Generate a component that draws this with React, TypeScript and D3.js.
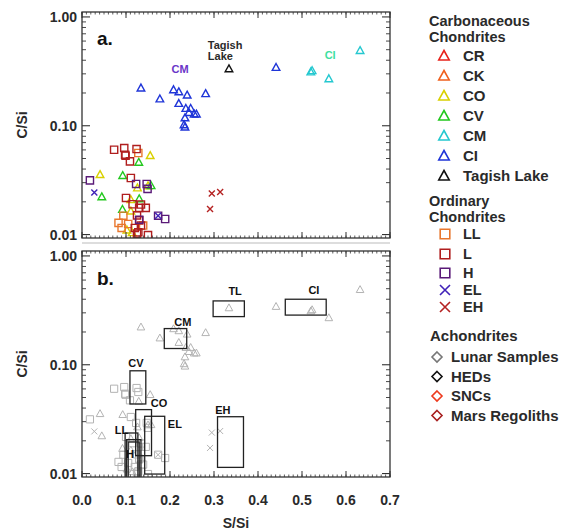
import React from "react";
import * as d3 from "d3";

type Pt = [number, number];

// S/Si, C/Si
const crPts: Pt[] = [];
const ckPts: Pt[] = [];
const coPts: Pt[] = [
  [0.041, 0.0355], [0.155, 0.0531], [0.126, 0.0268], [0.111, 0.0209],
  [0.111, 0.0164], [0.102, 0.011], [0.114, 0.0104], [0.150, 0.028],
];
const cvPts: Pt[] = [
  [0.045, 0.0222], [0.0925, 0.0348], [0.129, 0.0461], [0.157, 0.0281],
  [0.130, 0.0213], [0.092, 0.017],
];
const cmPts: Pt[] = [
  [0.523, 0.32], [0.52, 0.312], [0.561, 0.27], [0.632, 0.49],
];
const ciPts: Pt[] = [
  [0.134, 0.222], [0.177, 0.176], [0.208, 0.214], [0.22, 0.205], [0.239, 0.191],
  [0.281, 0.197], [0.22, 0.16], [0.236, 0.144], [0.247, 0.144], [0.243, 0.132],
  [0.255, 0.128], [0.26, 0.128], [0.234, 0.118], [0.232, 0.102], [0.234, 0.097],
  [0.441, 0.343],
];
const tagishPts: Pt[] = [[0.334, 0.333]];
const llPts: Pt[] = [
  [0.128, 0.0562], [0.094, 0.0149], [0.083, 0.0128], [0.09, 0.0115],
  [0.139, 0.0121], [0.105, 0.0125],
];
const lPts: Pt[] = [
  [0.073, 0.0602], [0.096, 0.0624], [0.124, 0.0611], [0.098, 0.0542], [0.099, 0.053],
  [0.109, 0.0471], [0.111, 0.0331], [0.1, 0.0217], [0.13, 0.0176], [0.134, 0.0189],
  [0.145, 0.0176], [0.134, 0.0121], [0.12, 0.0115], [0.128, 0.0105], [0.13, 0.0135],
  [0.115, 0.019], [0.125, 0.015], [0.125, 0.0102], [0.15, 0.0099],
];
const hPts: Pt[] = [
  [0.018, 0.0315], [0.123, 0.0292], [0.147, 0.0292], [0.149, 0.0263],
  [0.13, 0.0137], [0.173, 0.0149], [0.189, 0.0139],
];
const elPts: Pt[] = [[0.028, 0.0244], [0.173, 0.0149]];
const ehPts: Pt[] = [[0.295, 0.0238], [0.314, 0.0246], [0.291, 0.0172]];

// panel b boxes: [x0, x1, y0, y1, labelX, labelY]
const boxNames = ["TL", "CM", "CV", "CO", "EL", "LL", "L", "H", "EH", "CI"];
const boxRanges: number[][] = [
  [0.298, 0.369, 0.277, 0.386, 0.348, 0.438],
  [0.187, 0.238, 0.141, 0.215, 0.229, 0.228],
  [0.109, 0.145, 0.0436, 0.088, 0.1227, 0.0959],
  [0.122, 0.158, 0.0146, 0.0387, 0.175, 0.0412],
  [0.1425, 0.188, 0.0099, 0.0336, 0.211, 0.0264],
  [0.098, 0.127, 0.005, 0.0236, 0.09, 0.0233],
  [0.1015, 0.134, 0.005, 0.0205, NaN, NaN],
  [0.105, 0.13, 0.005, 0.0195, 0.109, 0.014],
  [0.308, 0.367, 0.0114, 0.0333, 0.32, 0.0355],
  [0.462, 0.555, 0.286, 0.4, 0.527, 0.448],
];

const xTicks = [0, 0.1, 0.2, 0.3, 0.4, 0.5, 0.6, 0.7];
const yTicks = [0.01, 0.1, 1];
const yTickLabels = ["0.01", "0.10", "1.00"];

const series = [
  { name: "CR", color: "#e8231b", shape: "tri", pts: crPts },
  { name: "CK", color: "#f0601e", shape: "tri", pts: ckPts },
  { name: "CO", color: "#d9d000", shape: "tri", pts: coPts },
  { name: "CV", color: "#22c81e", shape: "tri", pts: cvPts },
  { name: "CM", color: "#25c8d0", shape: "tri", pts: cmPts },
  { name: "CI", color: "#1f35d8", shape: "tri", pts: ciPts },
  { name: "Tagish Lake", color: "#111111", shape: "tri", pts: tagishPts },
  { name: "LL", color: "#e8772e", shape: "sq", pts: llPts },
  { name: "L", color: "#b01e1e", shape: "sq", pts: lPts },
  { name: "H", color: "#5a1a78", shape: "sq", pts: hPts },
  { name: "EL", color: "#4022b8", shape: "x", pts: elPts },
  { name: "EH", color: "#b52222", shape: "x", pts: ehPts },
];
const achondrites = [
  { name: "Lunar Samples", color: "#777777" },
  { name: "HEDs", color: "#111111" },
  { name: "SNCs", color: "#ee3a1e" },
  { name: "Mars Regoliths", color: "#a82020" },
];

const FONT = "'Liberation Sans', Arial, Helvetica, sans-serif";
const TXT = "#2a2a2a";

function shapePath(shape: string, s: number): string {
  if (shape === "tri") return `M0,${-s}L${s * 0.95},${s * 0.72}L${-s * 0.95},${s * 0.72}Z`;
  if (shape === "sq") return `M${-s},${-s}H${s}V${s}H${-s}Z`;
  if (shape === "x") return `M${-s},${-s}L${s},${s}M${-s},${s}L${s},${-s}`;
  return `M0,${-s}L${s},0L0,${s}L${-s},0Z`;
}

const x = d3.scaleLinear().domain([0, 0.7]).range([82, 390]);
const yA = d3.scaleLog().domain([0.0093, 1.11]).range([238, 12]);
const yB = d3.scaleLog().domain([0.0093, 1.11]).range([477, 251]);

const xMinor = d3.range(0, 70.5, 1).map((v) => v / 100);
const yMinor = [0.01, 0.1].flatMap((d) => d3.range(2, 10).map((k) => k * d)).filter((v) => v < 1.11);

function Frame({ y, id }: { y: d3.ScaleLogarithmic<number, number>; id: string }) {
  const [top, bottom] = [y.range()[1], y.range()[0]];
  const [left, right] = x.range();
  const stroke = "#333";
  return (
    <g>
      <rect x={left} y={top} width={right - left} height={bottom - top} fill="none" stroke={stroke} strokeWidth={1.3} />
      {xMinor.map((v, i) => (
        <g key={id + "xm" + i}>
          <line x1={x(v)} x2={x(v)} y1={bottom} y2={bottom - 2.5} stroke={stroke} strokeWidth={0.8} />
          <line x1={x(v)} x2={x(v)} y1={top} y2={top + 2.5} stroke={stroke} strokeWidth={0.8} />
        </g>
      ))}
      {xTicks.map((v, i) => (
        <g key={id + "xM" + i}>
          <line x1={x(v)} x2={x(v)} y1={bottom} y2={bottom - 6} stroke={stroke} strokeWidth={1} />
          <line x1={x(v)} x2={x(v)} y1={top} y2={top + 6} stroke={stroke} strokeWidth={1} />
        </g>
      ))}
      {yMinor.map((v, i) => (
        <g key={id + "ym" + i}>
          <line x1={left} x2={left + 4} y1={y(v)} y2={y(v)} stroke={stroke} strokeWidth={0.9} />
          <line x1={right} x2={right - 4} y1={y(v)} y2={y(v)} stroke={stroke} strokeWidth={0.9} />
        </g>
      ))}
      {yTicks.map((v, i) => (
        <g key={id + "yM" + i}>
          <line x1={left} x2={left + 8} y1={y(v)} y2={y(v)} stroke={stroke} strokeWidth={1.1} />
          <line x1={right} x2={right - 8} y1={y(v)} y2={y(v)} stroke={stroke} strokeWidth={1.1} />
          <text x={left - 5} y={y(v)} dy="0.36em" textAnchor="end" fontSize={14} fontWeight="bold" fill={TXT}>
            {yTickLabels[i]}
          </text>
        </g>
      ))}
      <text
        transform={`translate(22,${(top + bottom) / 2}) rotate(-90)`}
        textAnchor="middle"
        dy="0.36em"
        fontSize={14}
        fontWeight="bold"
        fill={TXT}
      >
        C/Si
      </text>
    </g>
  );
}

function Points({ y, gray }: { y: d3.ScaleLogarithmic<number, number>; gray: boolean }) {
  return (
    <g>
      {series.flatMap((s) =>
        s.pts.map((p, i) => (
          <path
            key={s.name + i}
            transform={`translate(${x(p[0])},${y(p[1])})`}
            d={shapePath(s.shape, s.shape === "sq" ? 3.6 : s.shape === "x" ? 3 : 4)}
            fill="none"
            stroke={gray ? "#b3b3b3" : s.color}
            strokeWidth={gray ? 1 : 1.4}
          />
        ))
      )}
    </g>
  );
}

export default function App() {
  const [left, right] = x.range();
  return (
    <svg width={563} height={531} style={{ position: "absolute", left: 0, top: 0 }} fontFamily={FONT}>
      <rect width={563} height={531} fill="#fff" />
      <defs>
        <clipPath id="clipA">
          <rect x={left} y={12} width={right - left} height={226} />
        </clipPath>
        <clipPath id="clipB">
          <rect x={left} y={251} width={right - left} height={226} />
        </clipPath>
      </defs>

      {/* panel a */}
      <g clipPath="url(#clipA)">
        <Points y={yA} gray={false} />
      </g>
      <Frame y={yA} id="a" />
      <text x={97} y={45} fontSize={19} fontWeight="bold" fill="#111">a.</text>
      <text x={x(0.286)} y={yA(0.508)} fontSize={11} fontWeight="bold" fill={TXT}>Tagish</text>
      <text x={x(0.286)} y={yA(0.404)} fontSize={11} fontWeight="bold" fill={TXT}>Lake</text>
      <text x={x(0.223)} y={yA(0.306)} textAnchor="middle" fontSize={11} fontWeight="bold" fill="#6a35c8">CM</text>
      <text x={x(0.564)} y={yA(0.412)} textAnchor="middle" fontSize={11} fontWeight="bold" fill="#3ee0a0">CI</text>

      <line x1={left} x2={right} y1={243} y2={243} stroke="#bbb" strokeWidth={1} />

      {/* panel b */}
      <g clipPath="url(#clipB)">
        <Points y={yB} gray={true} />
        {boxRanges.map((b, i) => (
          <rect
            key={boxNames[i]}
            x={x(b[0])}
            y={yB(b[3])}
            width={x(b[1]) - x(b[0])}
            height={yB(b[2]) - yB(b[3])}
            fill="none"
            stroke="#222"
            strokeWidth={1.3}
          />
        ))}
        {boxRanges.map((b, i) =>
          isNaN(b[4]) ? null : (
            <text key={"l" + i} x={x(b[4])} y={yB(b[5])} textAnchor="middle" fontSize={11} fontWeight="bold" fill="#111">
              {boxNames[i]}
            </text>
          )
        )}
      </g>
      <Frame y={yB} id="b" />
      <text x={97} y={285} fontSize={19} fontWeight="bold" fill="#111">b.</text>

      {/* x axis labels */}
      {xTicks.map((v) => (
        <text key={"xl" + v} x={x(v)} y={505} textAnchor="middle" fontSize={14} fontWeight="bold" fill={TXT}>
          {v.toFixed(1)}
        </text>
      ))}
      <text x={(left + right) / 2} y={528} textAnchor="middle" fontSize={14} fontWeight="bold" fill={TXT}>S/Si</text>

      {/* legend */}
      <g fontWeight="bold" fill={TXT}>
        <text x={429} y={26} fontSize={14.5}>Carbonaceous</text>
        <text x={429} y={42} fontSize={14.5}>Chondrites</text>
        {series.slice(0, 7).map((s, i) => (
          <g key={"lg" + s.name} transform={`translate(0,${56 + i * 20})`}>
            <path transform="translate(444,0)" d={shapePath("tri", 5.5)} fill="none" stroke={s.color} strokeWidth={1.6} />
            <text x={463} y={0} dy="0.36em" fontSize={15}>{s.name}</text>
          </g>
        ))}
        <text x={429} y={206} fontSize={14.5}>Ordinary</text>
        <text x={429} y={222} fontSize={14.5}>Chondrites</text>
        {series.slice(7).map((s, i) => (
          <g key={"lg" + s.name} transform={`translate(0,${[234, 254, 273, 290, 307][i]})`}>
            <path
              transform="translate(445,0)"
              d={shapePath(s.shape, s.shape === "sq" ? 4.8 : 5)}
              fill="none"
              stroke={s.color}
              strokeWidth={1.6}
            />
            <text x={463} y={0} dy="0.36em" fontSize={14.5}>{s.name}</text>
          </g>
        ))}
        <text x={430} y={341} fontSize={15}>Achondrites</text>
        {achondrites.map((a, i) => (
          <g key={"ach" + a.name} transform={`translate(0,${357 + i * 19.5})`}>
            <path transform="translate(437,0)" d={shapePath("dia", 5)} fill="none" stroke={a.color} strokeWidth={1.6} />
            <text x={451} y={0} dy="0.36em" fontSize={15}>{a.name}</text>
          </g>
        ))}
      </g>
    </svg>
  );
}
